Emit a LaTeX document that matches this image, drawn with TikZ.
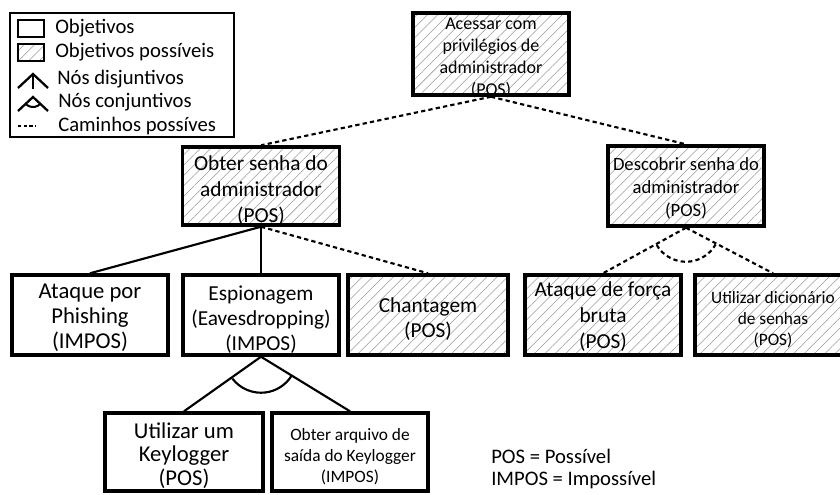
\documentclass[tikz,border=0pt]{standalone}
\usepackage{fontspec}
\setmainfont{Carlito}
\usetikzlibrary{patterns.meta,calc}
\tikzset{
  goal/.style={draw=black, line width=2.6pt, minimum width=117pt, minimum height=60pt, inner sep=0pt},
  posgoal/.style={goal, pattern={Lines[angle=45,distance=5.5pt,line width=0.4pt]}, pattern color=black!40},
  lbl/.style={align=center, inner sep=0pt, yshift=-3.3pt},
  link/.style={line width=1.6pt},
  dlink/.style={line width=1.6pt, dash pattern=on 3.2pt off 2.4pt},
  fP/.style={lbl, font=\fontsize{17}{18.75}\selectfont, yshift=1.5pt},
  fA/.style={lbl, font=\fontsize{16}{18.75}\selectfont},
  fB/.style={lbl, font=\fontsize{16}{19.5}\selectfont},
  fF/.style={lbl, font=\fontsize{16}{19.5}\selectfont, yshift=2.3pt},
  fC/.style={lbl, font=\fontsize{14}{17}\selectfont, yshift=1.5pt},
  fD/.style={lbl, font=\fontsize{13.5}{16.5}\selectfont, yshift=0.5pt},
  fE/.style={lbl, font=\fontsize{13}{15.6}\selectfont},
  fK/.style={lbl, font=\fontsize{17}{17.6}\selectfont, yshift=0.8pt},
  legtext/.style={anchor=west, inner sep=0pt, font=\fontsize{15.5}{17}\selectfont},
}
\begin{document}
\begin{tikzpicture}[x=0.75pt,y=-0.75pt]
\useasboundingbox (0,0) rectangle (840,494);
% legend
\node[draw=black, line width=0.8pt, minimum width=168pt, minimum height=93pt, inner sep=0pt] (legend) at (122,75) {};
\node[draw=black, line width=1.8pt, minimum width=19.5pt, minimum height=13pt, inner sep=0pt] (lg1) at (31,28.5) {};
\node[draw=black, line width=1.8pt, minimum width=19.5pt, minimum height=13pt, inner sep=0pt, pattern={Lines[angle=45,distance=5.5pt,line width=0.4pt]}, pattern color=black!40] (lg2) at (31,52.5) {};
\node[legtext] (lt1) at (55,28) {Objetivos};
\node[legtext] (lt2) at (55,52) {Objetivos possíveis};
\node[legtext] (lt3) at (57,79) {Nós disjuntivos};
\node[legtext] (lt4) at (58,102) {Nós conjuntivos};
\node[legtext] (lt5) at (58,126) {Caminhos possíves};
\coordinate (d0) at (33,74);
\draw[line width=1.7pt] (18,88) -- (d0) -- (48,88);
\draw[line width=1.7pt] (d0) -- (33,89);
\coordinate (c0) at (33,97);
\draw[line width=1.7pt] (18,111) -- (c0) -- (48,111);
\draw[line width=1.5pt] ([shift={(139:10)}]c0) arc[start angle=139, end angle=41, radius=10];
\coordinate (ds0) at (18,126);
\coordinate (ds1) at (36,126);
\draw[line width=1.2pt, dash pattern=on 2.6pt off 1.7pt] (ds0) -- (ds1);
% nodes
\node[posgoal, minimum height=61.5pt, label={[fD]center:{Acessar com\\privilégios de\\administrador\\(POS)}}] (top) at (491,54) {};
\node[posgoal, minimum width=118pt, minimum height=58.5pt, label={[fB]center:{Obter senha do\\administrador\\(POS)}}] (obter) at (261,186) {};
\node[posgoal, label={[fC]center:{Descobrir senha do\\administrador\\(POS)}}] (desc) at (686,186) {};
\node[goal, label={[fP]center:{Ataque por\\Phishing\\(IMPOS)}}] (phish) at (90,315) {};
\node[goal, label={[fA]center:{Espionagem\\(Eavesdropping)\\(IMPOS)}}] (espi) at (261,315) {};
\node[posgoal, minimum width=120pt, label={[fA]center:{Chantagem\\(POS)}}] (chant) at (428,315) {};
\node[posgoal, label={[fF]center:{Ataque de força\\bruta\\(POS)}}] (forca) at (603,315) {};
\node[posgoal, label={[fE]center:{Utilizar dicionário\\de senhas\\(POS)}}] (dic) at (773,315) {};
\node[goal, minimum width=118.5pt, minimum height=58.5pt, label={[fK]center:{Utilizar um\\Keylogger\\(POS)}}] (keyl) at (184,452) {};
\node[goal, minimum height=58.5pt, label={[fE]center:{Obter arquivo de\\saída do Keylogger\\(IMPOS)}}] (arq) at (350,452) {};
\node[anchor=west, align=left, inner sep=0pt, font=\fontsize{15.5}{16}\selectfont] (note) at (491,469) {POS = Possível\\IMPOS = Impossível};
% connectors
\draw[dlink] (top.south) -- (obter.north);
\draw[dlink] (top.south) -- (desc.north);
\draw[link] (obter.south) -- (phish.north);
\draw[link] (obter.south) -- (espi.north);
\draw[dlink] (obter.south) -- (chant.north);
\draw[dlink] (desc.south) -- (forca.north);
\draw[dlink] (desc.south) -- (dic.north);
\draw[dlink] ([shift={(149.4:34)}]desc.south) arc[start angle=149.4, end angle=29.4, radius=34];
\draw[link] (espi.south) -- (keyl.north);
\draw[link] (espi.south) -- (arq.north);
\draw[link] ([shift={(142.6:36)}]espi.south) arc[start angle=142.6, end angle=32.8, radius=36];
\end{tikzpicture}
\end{document}
